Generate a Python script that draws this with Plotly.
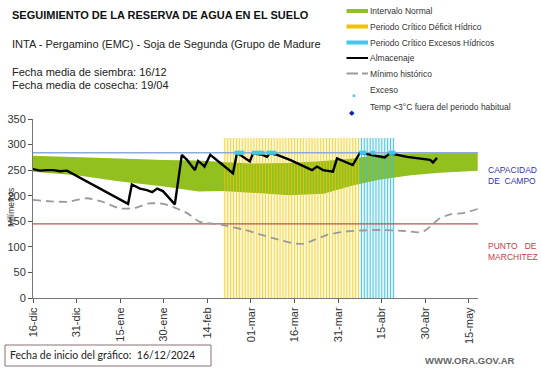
import plotly.graph_objects as go

# ---------------- data ----------------
tick_days = [0, 15, 30, 45, 60, 75, 90, 105, 120, 135, 150]
tick_labels = ["16-dic", "31-dic", "15-ene", "30-ene", "14-feb", "01-mar",
               "16-mar", "31-mar", "15-abr", "30-abr", "15-may"]

normal_days = [0, 15, 30, 45, 57, 65, 75, 88, 100, 110, 119, 130, 140, 153]
normal_low = [247, 240, 228, 218, 208, 209, 206, 201, 204, 220, 231, 240, 245, 249]
normal_high = [278, 276, 273, 270, 269, 266, 263, 264, 268, 273, 280, 283, 284, 284]

alm_days = [0, 2.4, 5, 7, 9.3, 11.7, 32.7, 34, 36.8, 39.2, 41, 42.7, 44.7, 48.8,
            51.2, 53, 55.7, 56.8, 58.5, 59, 61, 68.8, 70.2, 74.6, 75.7, 79,
            80.5, 81.5, 84, 88.4, 96, 97.7, 99.8, 103.2, 104.6, 110, 112.5,
            117, 121, 122.8, 128.7, 136.6, 137.6, 139]
alm_vals = [252, 249, 250, 250, 248, 249, 184, 222, 214, 211, 207, 214, 209, 183,
            280, 270, 250, 268, 260, 257, 280, 244, 284, 267, 283, 280,
            276, 283, 280, 270, 250, 257, 250, 247, 273, 260, 284,
            280, 275, 283, 276, 270, 265, 274]

min_days = [0, 6, 12, 18.5, 24, 30, 35, 40, 45, 49, 53, 57.4, 65, 73, 82.5, 89.5,
            93, 97, 101, 106, 112.5, 120, 128, 134, 140, 144, 148, 153]
min_vals = [192, 189, 188, 195, 188, 175, 176, 185, 184, 176, 166, 149, 143, 133,
            117, 107, 106, 114, 123, 129, 132, 133, 131, 129, 156, 164, 166, 174]

exceso_days = [70, 71, 72, 76, 77, 78, 79, 81, 82, 83, 113, 114, 117, 123, 124]
exceso_val = 284

capacidad_campo = 284
punto_marchitez = 145
periodo_top = 313
deficit_period = (66, 112)
exceso_period = (113, 124)

# ---------------- figure ----------------
W, H = 541, 368
L, R, T, B = 33, 63, 119, 70
XMAX = 153.1
PW, PH = W - L - R, H - T - B


def xp(px):
    return (px - L) / PW


def yp(py):
    return (H - B - py) / PH


fig = go.Figure()

# pale background of critical periods
for (a, b), col in [(deficit_period, "rgba(255,240,170,0.45)"),
                    (exceso_period, "rgba(195,236,248,0.45)")]:
    fig.add_trace(go.Scatter(x=[a - 0.5, b + 0.5], y=[periodo_top, periodo_top],
                             mode="lines", line=dict(width=0), fill="tozeroy",
                             fillcolor=col, hoverinfo="skip", showlegend=False))

# normal interval band
fig.add_trace(go.Scatter(x=normal_days, y=normal_low, mode="lines",
                         line=dict(width=0), showlegend=False, hoverinfo="skip"))
fig.add_trace(go.Scatter(x=normal_days, y=normal_high, mode="lines",
                         line=dict(width=0), fill="tonexty", fillcolor="#92C01F",
                         showlegend=False))


def vlines(a, b):
    xs, ys = [], []
    for d in range(a, b + 1):
        xs += [d, d, None]
        ys += [0, periodo_top, None]
    return xs, ys


xs, ys = vlines(*deficit_period)
fig.add_trace(go.Scatter(x=xs, y=ys, mode="lines",
                         line=dict(color="rgba(242,200,20,0.75)", width=1),
                         showlegend=False, hoverinfo="skip"))
xs, ys = vlines(*exceso_period)
fig.add_trace(go.Scatter(x=xs, y=ys, mode="lines",
                         line=dict(color="rgba(60,190,225,0.85)", width=1),
                         showlegend=False, hoverinfo="skip"))

# reference lines
fig.add_trace(go.Scatter(x=[0, XMAX], y=[capacidad_campo] * 2, mode="lines",
                         line=dict(color="#8EA9DB", width=1.3), showlegend=False))
fig.add_trace(go.Scatter(x=[0, XMAX], y=[punto_marchitez] * 2, mode="lines",
                         line=dict(color="#C0504D", width=1.2), showlegend=False))

# minimum historic
fig.add_trace(go.Scatter(x=min_days, y=min_vals, mode="lines",
                         line=dict(color="#9A9A9A", width=1.8, dash="8px,5px",
                                   shape="spline", smoothing=0.6),
                         showlegend=False))
# storage
fig.add_trace(go.Scatter(x=alm_days, y=alm_vals, mode="lines",
                         line=dict(color="black", width=2.4), showlegend=False))
# excess markers
fig.add_trace(go.Scatter(x=exceso_days, y=[exceso_val] * len(exceso_days),
                         mode="markers",
                         marker=dict(color="#3FC8E8", size=4, symbol="square"),
                         showlegend=False))

font = "Liberation Sans, Arial, sans-serif"
fig.update_layout(
    width=W, height=H, margin=dict(l=L, r=R, t=T, b=B, autoexpand=False),
    paper_bgcolor="white", plot_bgcolor="white",
    font=dict(family=font, color="#333333"),
    showlegend=False,
    xaxis=dict(range=[0, XMAX], tickmode="array", tickvals=tick_days,
               ticktext=tick_labels, tickangle=-90, ticks="outside", ticklen=4,
               tickcolor="#555", showline=True, linecolor="#777", linewidth=1,
               showgrid=False, zeroline=False, automargin=False,
               tickfont=dict(size=11, color="#333", family=font)),
    yaxis=dict(range=[0, 350], tickvals=[0, 50, 100, 150, 200, 250, 300, 350],
               ticks="outside", ticklen=4, tickcolor="#555", showline=True,
               linecolor="#777", linewidth=1, showgrid=False, zeroline=False,
               automargin=False,
               tickfont=dict(size=11, color="#333", family=font)),
)

ann = []


def text(px, py, s, size, color="#222", bold=False, anchor="left", fam=font, angle=0):
    ann.append(dict(xref="paper", yref="paper", x=xp(px), y=yp(py),
                    text=f"<b>{s}</b>" if bold else s, showarrow=False,
                    xanchor=anchor, yanchor="middle", textangle=angle,
                    font=dict(size=size, color=color, family=fam)))


text(10, 15, "SEGUIMIENTO DE LA RESERVA DE AGUA EN EL SUELO", 11, "#111", bold=True)
text(10, 44, "INTA - Pergamino (EMC) - Soja de Segunda (Grupo de Madure", 11, "#222")
text(10, 71.5, "Fecha media de siembra: 16/12", 11, "#222")
text(10, 84.5, "Fecha media de cosecha: 19/04", 11, "#222")

legend_items = ["Intervalo Normal", "Periodo Crítico Déficit Hídrico",
                "Periodo Crítico Excesos Hídricos", "Almacenaje", "Mínimo histórico",
                "Exceso", "Temp <3°C fuera del periodo habitual"]
legend_y = [11, 26.5, 42.5, 58, 73.5, 90, 106.5]
for s, y in zip(legend_items, legend_y):
    text(368, y, s, 8.5, "#333")

text(486, 170, "CAPACIDAD", 8.5, "#3535A8")
text(486, 181, "DE  CAMPO", 8.5, "#3535A8")
text(486, 246, "PUNTO   DE", 8.5, "#C0404A")
text(486, 257, "MARCHITEZ", 8.5, "#C0404A")
text(11, 208, "Milímetros", 8.5, "#333", anchor="center", angle=-90)
text(8, 355, "Fecha de inicio del gráfico:  16/12/2024", 10.5, "#222", fam="Lato, sans-serif")
text(517, 360, "WWW.ORA.GOV.AR", 9.5, "#666", bold=True, anchor="right")

ann.append(dict(xref="paper", yref="paper", x=xp(357), y=yp(90), text="■",
                showarrow=False, font=dict(size=5, color="#3FC8E8")))
ann.append(dict(xref="paper", yref="paper", x=xp(357), y=yp(106.5), text="◆",
                showarrow=False, font=dict(size=7, color="#1A1AA0", family="DejaVu Sans")))
fig.update_layout(annotations=ann)

shapes = []


def seg(x0, y0, x1, y1, color, width):
    shapes.append(dict(type="line", xref="paper", yref="paper", x0=xp(x0), y0=yp(y0),
                       x1=xp(x1), y1=yp(y1), line=dict(color=color, width=width)))


seg(346.5, 11, 368, 11, "#92C01F", 4)
seg(346.5, 26.5, 368, 26.5, "#F2C200", 4)
seg(346.5, 42.5, 368, 42.5, "#3FC8E8", 4)
seg(346.5, 58, 368, 58, "black", 2)
seg(346.5, 73.5, 358, 73.5, "#9A9A9A", 2)
seg(362, 73.5, 368, 73.5, "#9A9A9A", 2)
shapes.append(dict(type="rect", xref="paper", yref="paper", x0=xp(5), y0=yp(345),
                   x1=xp(211), y1=yp(366), line=dict(color="#8B7070", width=1)))
fig.update_layout(shapes=shapes)

fig.write_html("out.html", config={"displayModeBar": False},
               post_script="document.body.style.margin='0';"
                           "document.body.style.overflow='hidden';")
